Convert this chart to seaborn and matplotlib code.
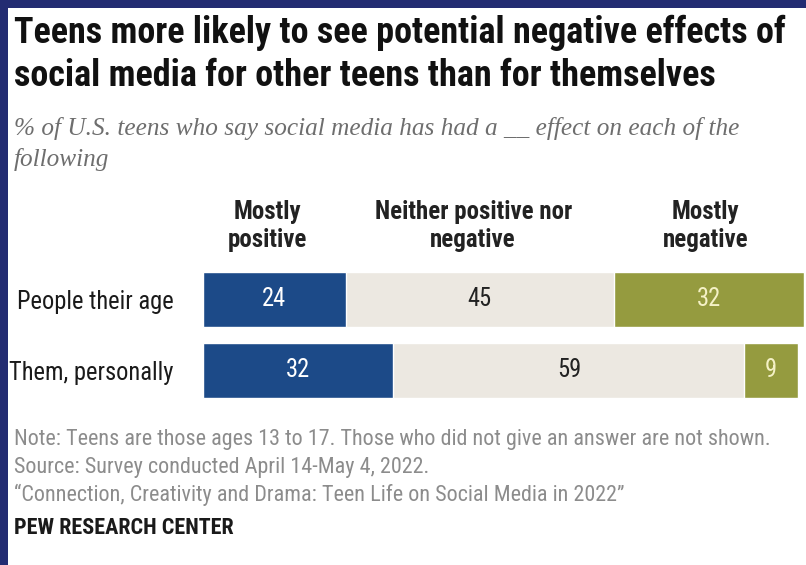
import matplotlib
matplotlib.use("Agg")
import matplotlib.pyplot as plt
from matplotlib import font_manager
import seaborn as sns
import pandas as pd

groups = ["People their age", "Them, personally"]
positive = [24, 32]
neither = [45, 59]
negative = [32, 9]
headers = ["Mostly\npositive", "Neither positive nor\nnegative", "Mostly\nnegative"]

title = ("Teens more likely to see potential negative effects of\n"
         "social media for other teens than for themselves")
subtitle = ("% of U.S. teens who say social media has had a __ effect on each of the\n"
            "following")
notes = ["Note: Teens are those ages 13 to 17. Those who did not give an answer are not shown.",
         "Source: Survey conducted April 14-May 4, 2022.",
         "\u201cConnection, Creativity and Drama: Teen Life on Social Media in 2022\u201d"]

BLUE = "#1c4a88"
BEIGE = "#ece8e1"
GREEN = "#959b3f"
NAVY = "#232c72"

# pick the narrowest sans that is installed
installed = {f.name for f in font_manager.fontManager.ttflist}
SANS = next(f for f in ["Liberation Sans Narrow", "Roboto Condensed", "Liberation Sans",
                        "Roboto", "DejaVu Sans"] if f in installed)
SERIF = next(f for f in ["Liberation Serif", "DejaVu Serif"] if f in installed)

sns.set_style("white")
plt.rcParams["font.family"] = [SANS, "DejaVu Sans"]

df = pd.DataFrame({"group": groups, "pos": positive, "mid": neither, "neg": negative})
df["c1"] = df["pos"]
df["c2"] = df["pos"] + df["mid"]
df["c3"] = df["c2"] + df["neg"]

W, H = 806, 565
fig = plt.figure(figsize=(W / 100, H / 100), dpi=100)
fig.patch.set_facecolor("white")

# axes: x from 203px to 804px, rows centred at ~299 and ~370
ax = fig.add_axes([203 / W, 1 - 405.5 / H, 601 / W, 141.5 / H])
for col, color in [("c3", GREEN), ("c2", BEIGE), ("c1", BLUE)]:
    sns.barplot(data=df, x=col, y="group", orient="h", color=color,
                width=0.78, saturation=1, ax=ax)
ax.set_xlim(0, 101)
ax.set_ylim(1.5, -0.5)
ax.set_xlabel("")
ax.set_ylabel("")
ax.set_xticks([])
sns.despine(ax=ax, left=True, bottom=True)
ax.tick_params(axis="y", length=0, pad=21, labelsize=15)
for lab in ax.get_yticklabels():
    lab.set_color("#1a1a1a")

nums = []
for i in range(len(groups)):
    p, m, n = positive[i], neither[i], negative[i]
    nums.append(ax.text(p / 2, i, str(p), ha="center", va="center", color="white"))
    nums.append(ax.text(p + m / 2, i, str(m), ha="center", va="center", color="#222222"))
    nums.append(ax.text(p + m + n / 2, i, str(n), ha="center", va="center", color="#f4f1c6"))

header_x = [10.8, 45.4, 84.5]
head_txt = []
for hx, h in zip(header_x, headers):
    head_txt.append(ax.text(hx, -0.5 - (264 - 226) / 71, h, ha="center", va="center",
                            fontweight="bold", color="#222222", linespacing=1.2))

t_title = fig.text(14 / W, 1 - 15 / H, title, ha="left", va="top", fontsize=22,
                   fontweight="bold", color="#111111", linespacing=1.25)
t_sub = fig.text(14 / W, 1 - 117 / H, subtitle, ha="left", va="top", fontsize=16,
                 style="italic", family=[SERIF, "DejaVu Serif"],
                 color="#6e6e6e", linespacing=1.45)

t_notes = []
for k, line in enumerate(notes):
    t_notes.append(fig.text(14 / W, 1 - (439 + 28 * k) / H, line, ha="left",
                            va="center", color="#8c8c8c"))
t_pew = fig.text(14 / W, 1 - 528 / H, "PEW RESEARCH CENTER", ha="left", va="center",
                 fontweight="bold", color="#1a1a1a")

# size each text so its width matches the reference
fig.canvas.draw()
renderer = fig.canvas.get_renderer()


def fit(texts, ref, target_px):
    ref.set_fontsize(10)
    w = ref.get_window_extent(renderer).width
    size = 10 * target_px / w
    for t in texts:
        t.set_fontsize(size)
    return size


fit([t_title], t_title, 773)
fit([t_sub], t_sub, 726)
fit(head_txt, head_txt[1], 197)
fit(t_notes + [t_pew], t_notes[0], 751)
row_size = fit(ax.get_yticklabels(), ax.get_yticklabels()[0], 156)
for t in nums:
    t.set_fontsize(row_size)

# frame lines on top and left
fig.add_artist(plt.Rectangle((0, 1 - 8 / H), 1, 8 / H, transform=fig.transFigure,
                             color=NAVY, lw=0))
fig.add_artist(plt.Rectangle((0, 0), 8 / W, 1, transform=fig.transFigure,
                             color=NAVY, lw=0))

fig.savefig("out.png", dpi=100)
